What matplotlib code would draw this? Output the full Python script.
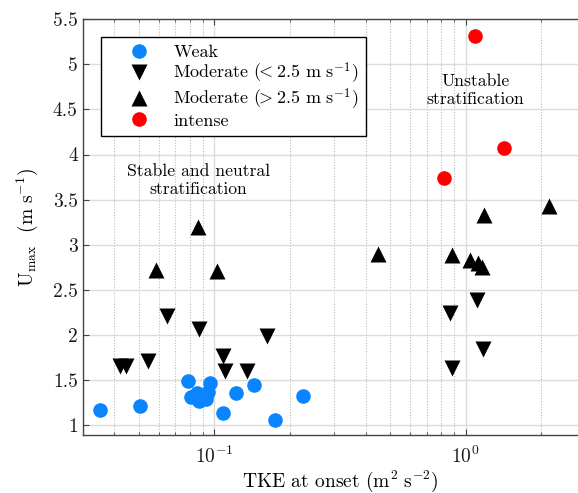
import matplotlib
matplotlib.use("Agg")
import matplotlib.pyplot as plt
from matplotlib.ticker import LogLocator, FixedLocator, NullFormatter
import numpy as np

plt.rcParams['font.family'] = ['cmr10', 'DejaVu Serif']
plt.rcParams['mathtext.fontset'] = 'cm'
plt.rcParams['axes.formatter.use_mathtext'] = True

# Data
weak_tke = [0.035, 0.0506, 0.0788, 0.0805, 0.0851, 0.0867, 0.0924, 0.0947, 0.0962, 0.1086, 0.1216, 0.1438, 0.1744, 0.226]
weak_u   = [1.17, 1.21, 1.49, 1.31, 1.36, 1.27, 1.29, 1.37, 1.47, 1.135, 1.36, 1.44, 1.05, 1.32]

modlow_tke = [0.042, 0.0445, 0.0546, 0.065, 0.0872, 0.108, 0.1103, 0.1353, 0.1625, 0.866, 0.88, 1.106, 1.168]
modlow_u   = [1.65, 1.65, 1.71, 2.21, 2.06, 1.77, 1.60, 1.60, 1.99, 2.24, 1.63, 2.39, 1.84]

modhigh_tke = [0.0585, 0.0864, 0.1028, 0.4467, 0.885, 1.04, 1.12, 1.158, 1.183, 2.15]
modhigh_u   = [2.72, 3.20, 2.705, 2.90, 2.89, 2.835, 2.80, 2.75, 3.33, 3.43]

intense_tke = [1.089, 1.42, 0.822]
intense_u   = [5.32, 4.07, 3.74]

labels = ['Weak',
          r'Moderate ($\!\!<\!\!$ 2.5 $\mathrm{m\ s}^{-1}$)',
          r'Moderate ($\!\!>\!\!$ 2.5 $\mathrm{m\ s}^{-1}$)',
          'intense']
ytick_labels = ['1', '1.5', '2', '2.5', '3', '3.5', '4', '4.5', '5', '5.5']

W, H = 578, 493
fig = plt.figure(figsize=(W/100, H/100), dpi=100)
left = 82.7 / W
bottom = (H - 434.9) / H
top = (H - 19.3) / H
x0 = 10 ** -1.5235
x1 = 3.0
width_px = 251.4 * (np.log10(x1) - np.log10(x0))
ax = fig.add_axes([left, bottom, width_px / W, top - bottom])

ax.set_xscale('log')
ax.set_xlim(x0, x1)
ax.set_ylim(0.89, 5.5)

ax.xaxis.set_minor_locator(LogLocator(base=10, subs=np.arange(2, 10)))
ax.xaxis.set_minor_formatter(NullFormatter())
ax.set_xticks([0.1, 1.0])
ax.set_xticklabels([r'$10^{-1}$', r'$10^{0}$'])
ax.set_yticks(np.arange(1, 5.51, 0.5))
ax.set_yticklabels(ytick_labels)

ax.grid(which='major', axis='both', color='#dcdcdc', lw=1.0, ls='-')
ax.grid(which='minor', axis='x', color='#bbbbbb', lw=0.8, ls=(0, (1, 1.5)))
ax.set_axisbelow(True)

for s in ax.spines.values():
    s.set_color('#444444')
    s.set_linewidth(1.0)
ax.tick_params(which='both', direction='in', top=True, right=False, colors='#444444',
               labelcolor='#1a1a1a', labelsize=14)
ax.tick_params(which='major', length=4)
ax.tick_params(which='minor', length=2.5)
ax.tick_params(axis='x', pad=8)

h1, = ax.plot(weak_tke, weak_u, 'o', color='#0a84ff', ms=10.5, mec='none', label=labels[0])
h2, = ax.plot(modlow_tke, modlow_u, 'v', color='black', ms=11, mec='none', label=labels[1])
h3, = ax.plot(modhigh_tke, modhigh_u, '^', color='black', ms=11, mec='none', label=labels[2])
h4, = ax.plot(intense_tke, intense_u, 'o', color='#ff0000', ms=10.5, mec='none', label=labels[3])

ax.set_xlabel(r'TKE at onset ($\mathrm{m}^{2}\ \mathrm{s}^{-2}$)', fontsize=14)
ax.xaxis.set_label_coords((340 - 82.7) / width_px, (434.9 - 469.0) / (434.9 - 19.3))
ax.set_ylabel(r'$\mathrm{U}_{\mathrm{max}}$  ($\mathrm{m\ s}^{-1}$)', fontsize=14, labelpad=9)

ax.text(0.0864, 3.715, 'Stable and neutral\nstratification', ha='center', va='center',
        fontsize=12.7, linespacing=1.2)
ax.text(1.094, 4.716, 'Unstable\nstratification', ha='center', va='center',
        fontsize=12.7, linespacing=1.2)

leg = ax.legend(handles=[h1, h2, h3, h4], loc='upper left',
                bbox_to_anchor=(101 / W, 1 - 37 / H), bbox_transform=fig.transFigure,
                fontsize=13, frameon=True, fancybox=False, edgecolor='black',
                borderpad=0.4, labelspacing=0.05, handletextpad=0.16, handlelength=3.44,
                borderaxespad=0, framealpha=1)
leg.get_frame().set_linewidth(1.0)

fig.savefig('out.png', dpi=100)
